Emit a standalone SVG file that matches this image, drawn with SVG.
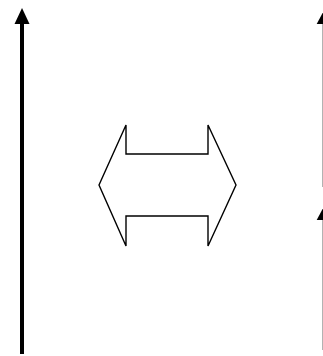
<svg xmlns="http://www.w3.org/2000/svg" width="323" height="356" viewBox="0 0 323 356">
<style>
.shaft{stroke:#000;stroke-width:4;fill:none}
.head{fill:#000;stroke:none}
.block{fill:#fff;stroke:#000;stroke-width:1.4;stroke-linejoin:miter}
</style>
<rect width="323" height="356" fill="#fff"/>
<g id="connectors">
<line class="shaft" x1="22" y1="354" x2="22" y2="22"/>
<polygon class="head" points="22,8 14.5,24 29.5,24"/>
<line class="shaft" x1="324.7" y1="187" x2="324.7" y2="23"/>
<polygon class="head" points="324.7,9 316.7,24 332.7,24"/>
<line class="shaft" x1="324.7" y1="350" x2="324.7" y2="219"/>
<polygon class="head" points="324.7,205 316.7,220 332.7,220"/>
</g>
<g id="double-arrow">
<polygon class="block" points="99,185 126,125 126,154 208,154 208,125 236,185 208,246 208,216 126,216 126,246"/>
</g>
</svg>
